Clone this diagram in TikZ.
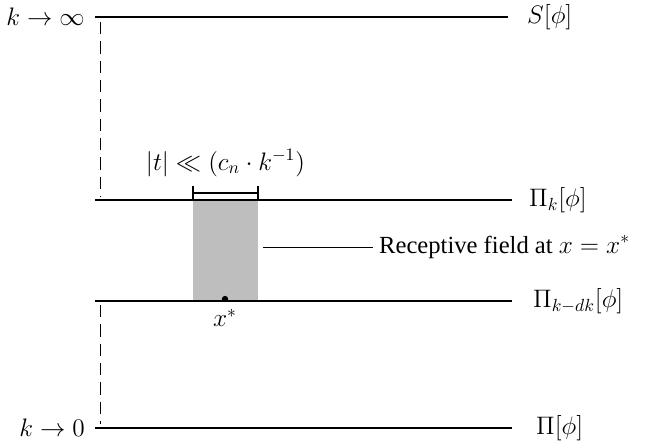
\documentclass[tikz,border=0pt]{standalone}
\usepackage{amsmath,amssymb}
\usepackage{fontspec}
\setmainfont{Liberation Serif}
\definecolor{fieldgray}{RGB}{190,190,190}

\begin{document}
\begin{tikzpicture}[x=0.02cm, y=-0.02cm,
    every node/.style={font=\fontsize{14}{17}\selectfont},
    level/.style={line width=0.8pt},
    flow/.style={dash pattern=on 7pt off 4pt, line width=0.5pt}]
  \useasboundingbox (0,0) rectangle (652,443);

  % Levels (scale k)
  \coordinate (top-l) at (95,17);   \coordinate (top-r) at (508,17);
  \coordinate (pik-l) at (95,200);  \coordinate (pik-r) at (512,200);
  \coordinate (pidk-l) at (95,301); \coordinate (pidk-r) at (512,301);
  \coordinate (bot-l) at (95,428);  \coordinate (bot-r) at (512,428);

  % Receptive field
  \fill[fieldgray] (193,200) rectangle (258,301);

  \draw[level] (top-l) -- (top-r);
  \draw[level] (pik-l) -- (pik-r);
  \draw[level] (pidk-l) -- (pidk-r);
  \draw[level] (bot-l) -- (bot-r);

  % Labels of the levels
  \node[anchor=east] (kinf) at (91,17) {$k \to \infty$};
  \node[anchor=west] (S) at (521,17) {$S[\phi]$};
  \node[anchor=west] (Pik) at (523,200) {$\Pi_k[\phi]$};
  \node[anchor=west] (Pidk) at (527,301) {$\Pi_{k-dk}[\phi]$};
  \node[anchor=east] (kzero) at (91,428) {$k \to 0$};
  \node[anchor=west] (Pi) at (530,428) {$\Pi[\phi]$};

  % Flow between levels
  \coordinate (d1a) at (100,22);  \coordinate (d1b) at (100,196);
  \coordinate (d2a) at (100,305); \coordinate (d2b) at (100,424);
  \draw[flow] (d1a) -- (d1b);
  \draw[flow] (d2a) -- (d2b);

  % Width of the field
  \coordinate (br-l) at (193,193); \coordinate (br-r) at (258,193);
  \draw[line width=1.6pt] (br-l) -- (br-r);
  \draw[line width=1.2pt] (193,186) -- (193,199);
  \draw[line width=1.2pt] (258,186) -- (258,199);
  \node (width) at (225.5,163) {$|t| \ll (c_n \cdot k^{-1})$};

  % Point x*
  \fill (225,299) circle (1.8pt);
  \node (xstar) at (225,318) {$x^{*}$};

  % Pointer to the field
  \node[anchor=west] (field) at (373,247) {Receptive field at $x = x^{*}$};
  \coordinate (ptr) at (263,247);
  \draw[line width=0.5pt] (ptr) -- (field.west);
\end{tikzpicture}
\end{document}
